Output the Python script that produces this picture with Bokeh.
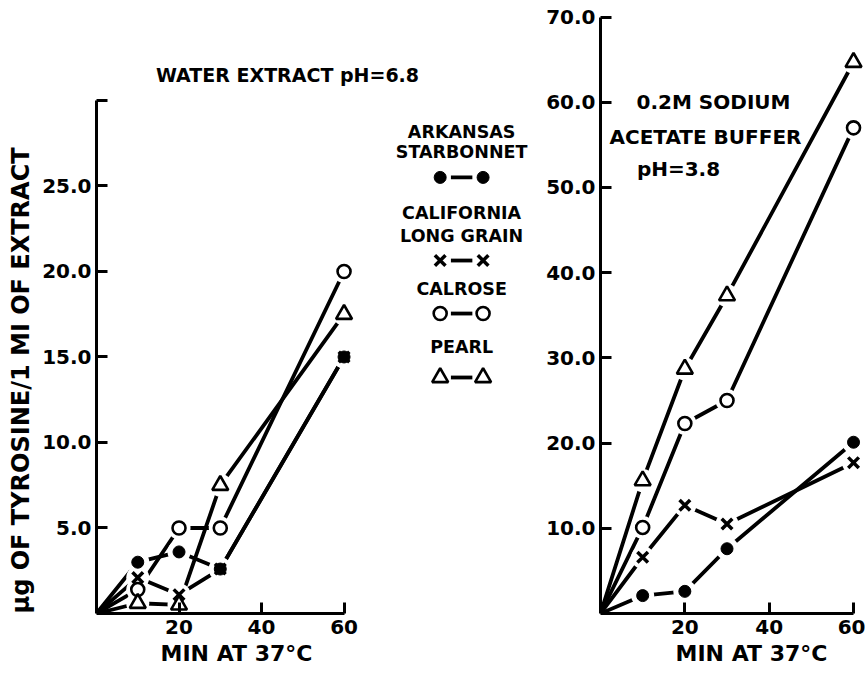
from bokeh.plotting import figure
from bokeh.layouts import row
from bokeh.models import FixedTicker, Range1d, Title
from bokeh.core.properties import value
from bokeh.embed import file_html
from bokeh.resources import INLINE

# ---------------- data ----------------
minutes = [0, 10, 20, 30, 60]

# Water extract pH=6.8
starbonnet_water = [0, 3.0, 3.6, 2.6, 15.0]
longgrain_water = [0, 2.1, 1.1, 2.6, 15.0]
calrose_water = [0, 1.4, 5.0, 5.0, 20.0]
pearl_water = [0, 0.6, 0.5, 7.5, 17.5]

# 0.2M sodium acetate buffer pH=3.8
starbonnet_buffer = [0, 2.1, 2.6, 7.6, 20.1]
longgrain_buffer = [0, 6.6, 12.7, 10.5, 17.7]
calrose_buffer = [0, 10.1, 22.3, 25.0, 57.0]
pearl_buffer = [0, 15.6, 28.7, 37.3, 64.7]

x_ticks = [20, 40, 60]
water_y_ticks = [5, 10, 15, 20, 25, 30]
buffer_y_ticks = [10, 20, 30, 40, 50, 60, 70]

FONT = "DejaVu Sans"
INK = "black"

# marker style per variety: (marker, fill, size, line_width)
STYLES = [
    ("circle", INK, 12, 1),
    ("x", None, 15, 3.5),
    ("circle", "white", 13, 2.6),
    ("triangle", "white", 16, 2.6),
]


def style_axes(p, xbounds, ybounds, yticks, ylabels):
    p.xaxis.bounds = xbounds
    p.yaxis.bounds = ybounds
    p.xaxis.ticker = FixedTicker(ticks=x_ticks)
    p.yaxis.ticker = FixedTicker(ticks=yticks)
    p.yaxis.major_label_overrides = ylabels
    p.xaxis.major_label_overrides = {t: str(t) for t in x_ticks}
    for ax in (p.xaxis[0], p.yaxis[0]):
        ax.axis_line_width = 3
        ax.axis_line_color = INK
        ax.major_tick_line_width = 3
        ax.major_tick_line_color = INK
        ax.major_tick_in = 11
        ax.major_tick_out = 0
        ax.minor_tick_line_color = None
        ax.major_label_text_font = FONT
        ax.major_label_text_font_style = "bold"
        ax.major_label_text_font_size = "20px"
        ax.major_label_text_color = INK
    p.xaxis.major_label_standoff = 6
    p.yaxis.major_label_standoff = 5
    p.grid.visible = False
    p.outline_line_color = None
    p.background_fill_color = "white"
    p.border_fill_color = "white"


def side_title(p, text, side, offset, size, standoff):
    t = Title(text=text, align="left", offset=offset, standoff=standoff,
              text_font=FONT, text_font_style="bold", text_font_size=size,
              text_color=INK)
    p.add_layout(t, side)


def draw_series(p, series_list):
    for ys in series_list:
        p.line(minutes, ys, line_color=INK, line_width=3.8)
    for ys in series_list:
        p.scatter(minutes[1:], ys[1:], marker="circle", size=23,
                  fill_color="white", line_color=None)
    for ys, (mk, fill, size, lw) in zip(series_list, STYLES):
        p.scatter(minutes[1:], ys[1:], marker=mk, size=size,
                  fill_color=fill, line_color=INK, line_width=lw)


H = 674
# ---------------- left panel ----------------
left = figure(width=542, height=H, output_backend="svg", toolbar_location=None,
              x_range=Range1d(0, 108.1), y_range=Range1d(0, 35.26),
              min_border_left=96, min_border_right=0, min_border_top=10,
              min_border_bottom=61)
style_axes(left, (0, 60), (0, 30), water_y_ticks,
           {t: ("%.1f" % t if t < 30 else "") for t in water_y_ticks})
side_title(left, "MIN AT 37°C", "below", 64, "22px", 5)
side_title(left, "µg OF TYROSINE/1 MI OF EXTRACT", "left", 0, "24px", 9)

draw_series(left, [starbonnet_water, longgrain_water, calrose_water, pearl_water])

left.text(x=[46.3], y=[31.46], text=["WATER EXTRACT pH=6.8"],
          text_font=value(FONT), text_font_style="bold", text_font_size="19px",
          text_align="center", text_baseline="middle", text_color=INK)

leg_x = 88.5
leg_text_lines = [("ARKANSAS", 28.13), ("STARBONNET", 26.96),
                  ("CALIFORNIA", 23.39), ("LONG GRAIN", 22.1),
                  ("CALROSE", 18.95), ("PEARL", 15.56)]
left.text(x=[leg_x] * len(leg_text_lines), y=[t[1] for t in leg_text_lines],
          text=[t[0] for t in leg_text_lines],
          text_font=value(FONT), text_font_style="bold", text_font_size="17.5px",
          text_align="center", text_baseline="middle", text_color=INK)
sym_y = [25.5, 20.64, 17.54, 13.8]
for sy, (mk, fill, size, lw) in zip(sym_y, STYLES):
    left.line([leg_x - 2.6, leg_x + 2.6], [sy, sy], line_color=INK, line_width=3.8)
    left.scatter([leg_x - 5.2, leg_x + 5.2], [sy, sy], marker=mk, size=size,
                 fill_color=fill, line_color=INK, line_width=lw)

# ---------------- right panel ----------------
right = figure(width=323, height=H, output_backend="svg", toolbar_location=None,
               x_range=Range1d(0, 62.84), y_range=Range1d(0, 70.77),
               min_border_left=58, min_border_right=0, min_border_top=10,
               min_border_bottom=61)
style_axes(right, (0, 60), (0, 70), buffer_y_ticks,
           {t: "%.1f" % t for t in buffer_y_ticks})
side_title(right, "MIN  AT 37°C", "below", 75, "22px", 5)

draw_series(right, [starbonnet_buffer, longgrain_buffer, calrose_buffer, pearl_buffer])

right.text(x=[26.8, 24.9, 18.5], y=[60.0, 55.9, 52.2],
           text=["0.2M SODIUM", "ACETATE BUFFER", "pH=3.8"],
           text_font=value(FONT), text_font_style="bold", text_font_size="20px",
           text_align="center", text_baseline="middle", text_color=INK)

layout = row(left, right, spacing=0)
open("out.html", "w").write(file_html(layout, INLINE))
